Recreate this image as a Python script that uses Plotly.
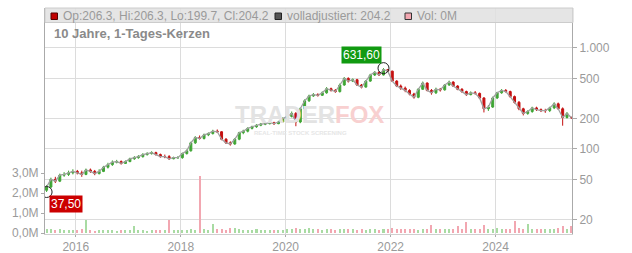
import plotly.graph_objects as go
import pandas as pd
import math

# ---------------- data (monthly candles) ----------------
dates = [d + pd.Timedelta(days=11) for d in pd.date_range("2015-06-01", "2025-06-01", freq="MS")]

opens = [39, 42, 50, 48, 55, 56, 58,
         60, 58, 56, 62, 60, 57, 60, 66, 70, 74, 75, 72,
         75, 80, 82, 84, 88, 90, 92, 88, 84, 84, 80, 82,
         82, 90, 96, 115, 130, 127, 138, 142, 150, 148, 125, 115,
         112, 125, 145, 150, 160, 166, 172, 176, 178, 182, 178, 185,
         200, 210, 225, 185, 250, 300, 335, 345, 340, 360, 395, 380,
         370, 430, 500, 470, 485, 430, 410, 470, 540, 575, 540, 610,
         590, 470, 420, 400, 380, 350, 325, 390, 450, 380, 360, 390,
         385, 430, 460, 420, 390, 370, 345, 360, 355, 320, 250, 260,
         320, 360, 380, 370, 330, 290, 250, 225, 235, 255, 245, 240,
         240, 255, 280, 250, 205, 206.3]
highs = [44, 52, 53, 57, 59, 61, 63,
         62, 61, 64, 64, 62, 63, 68, 73, 77, 78, 77, 77,
         82, 85, 87, 91, 93, 95, 94, 90, 88, 87, 84, 85,
         92, 99, 118, 134, 136, 142, 146, 155, 156, 150, 128, 119,
         128, 148, 155, 164, 170, 176, 181, 183, 188, 186, 190, 206,
         218, 235, 232, 258, 310, 345, 358, 356, 372, 410, 405, 392,
         445, 515, 512, 500, 495, 440, 482, 555, 590, 585, 631.6, 620,
         595, 480, 435, 415, 390, 360, 400, 465, 455, 392, 405, 402,
         440, 475, 468, 428, 400, 378, 372, 375, 362, 325, 272, 330,
         368, 392, 392, 378, 338, 298, 256, 242, 262, 262, 252, 250,
         262, 290, 288, 258, 232, 206.3]
lows = [37.5, 41, 46, 47, 53, 54, 56,
        56, 53, 55, 58, 55, 56, 59, 64, 68, 72, 70, 71,
        74, 78, 80, 82, 86, 88, 86, 82, 81, 78, 79, 80,
        80, 88, 94, 112, 124, 124, 134, 139, 144, 122, 112, 108,
        110, 122, 140, 146, 156, 162, 168, 172, 175, 174, 176, 183,
        196, 205, 168, 180, 245, 292, 328, 330, 335, 352, 370, 360,
        362, 422, 455, 460, 420, 398, 405, 462, 528, 530, 535, 580,
        460, 410, 385, 365, 340, 315, 318, 385, 372, 345, 350, 370,
        378, 422, 412, 382, 360, 335, 340, 345, 312, 230, 238, 255,
        312, 352, 362, 322, 282, 242, 215, 218, 228, 238, 232, 228,
        232, 248, 245, 170, 200, 199.7]
closes = [42, 50, 48, 55, 56, 58, 60,
          58, 56, 62, 60, 57, 60, 66, 70, 74, 75, 72, 75,
          80, 82, 84, 88, 90, 92, 88, 84, 84, 80, 82, 82,
          90, 96, 115, 130, 127, 138, 142, 150, 148, 125, 115, 112,
          125, 145, 150, 160, 166, 172, 176, 178, 182, 178, 185, 200,
          210, 225, 185, 250, 300, 335, 345, 340, 360, 395, 380, 370,
          430, 500, 470, 485, 430, 410, 470, 540, 575, 540, 610, 590,
          470, 420, 400, 380, 350, 325, 390, 450, 380, 360, 390, 385,
          430, 460, 420, 390, 370, 345, 360, 355, 320, 250, 260, 320,
          360, 380, 370, 330, 290, 250, 225, 235, 255, 245, 240, 240,
          255, 280, 250, 205, 225, 204.2]
volumes_m = [0.18, 0.22, 0.15, 0.2, 0.14, 0.16, 0.15,
             0.14, 0.18, 0.65, 0.15, 0.12, 0.14, 0.16, 0.13, 0.15, 0.12, 0.14, 0.13,
             0.14, 0.35, 0.15, 0.13, 0.12, 0.16, 0.13, 0.14, 0.15, 0.65, 0.14, 0.13,
             0.16, 0.15, 0.18, 0.15, 2.85, 0.2, 0.16, 0.45, 0.18, 0.22, 0.17, 0.25,
             0.25, 0.18, 0.15, 0.16, 0.14, 0.2, 0.16, 0.15, 0.17, 0.14, 0.15, 0.16,
             0.18, 0.2, 0.25, 0.22, 0.2, 0.24, 0.18, 0.2, 0.17, 0.22, 0.18, 0.16,
             0.2, 0.22, 0.18, 0.2, 0.16, 0.18, 0.15, 0.2, 0.18, 0.16, 0.2, 0.22,
             0.25, 0.2, 0.18, 0.22, 0.2, 0.18, 0.17, 0.2, 0.22, 0.4, 0.2, 0.18,
             0.2, 0.18, 0.22, 0.35, 0.2, 0.55, 0.2, 0.18, 0.22, 0.4, 0.22, 0.2,
             0.25, 0.2, 0.22, 0.2, 0.6, 0.25, 0.22, 0.45, 0.2, 0.22, 0.18, 0.2,
             0.22, 0.2, 0.25, 0.35, 0.22, 0.35]

price_ticks = [20, 50, 100, 200, 500, 1000]
price_tick_labels = ["20", "50", "100", "200", "500", "1.000"]
vol_ticks = [0, 1e6, 2e6, 3e6]
vol_tick_labels = ["0,0M", "1,0M", "2,0M", "3,0M"]
year_ticks = ["2016-01-01", "2018-01-01", "2020-01-01", "2022-01-01", "2024-01-01"]
year_labels = ["2016", "2018", "2020", "2022", "2024"]

high_label = "631,60"
low_label = "37,50"
legend_ohlc = "Op:206.3, Hi:206.3, Lo:199.7, Cl:204.2"
legend_adj = "volladjustiert: 204.2"
legend_vol = "Vol: 0M"
subtitle = "10 Jahre, 1-Tages-Kerzen"

# ---------------- figure ----------------
GRAY = "#9a9a9a"
L, R, T, B = 45, 60, 8, 19
W, H = 632, 253
PW, PH = W - L - R, H - T - B

def px(x):
    return (x - L) / PW

def py(y):
    return 1 - (y - T) / PH

vols = [v * 1e6 for v in volumes_m]
vol_colors = ["#a9dba3" if c >= o else "#f2a7b1" for o, c in zip(opens, closes)]

fig = go.Figure()
fig.add_trace(go.Bar(x=dates, y=vols, marker=dict(color=vol_colors, line_width=0),
                     width=14 * 86400000, yaxis="y2", hoverinfo="skip"))
fig.add_trace(go.Scatter(x=dates, y=closes, mode="lines",
                         line=dict(color="#a0a0a0", width=1.3), hoverinfo="skip"))
fig.add_trace(go.Candlestick(x=dates, open=opens, high=highs, low=lows, close=closes,
                             increasing=dict(line=dict(color="#3fa535", width=1), fillcolor="#3fa535"),
                             decreasing=dict(line=dict(color="#c41010", width=1), fillcolor="#c41010"),
                             whiskerwidth=0))

i_hi = highs.index(max(highs))
i_lo = lows.index(min(lows))
fig.add_trace(go.Scatter(x=[dates[i_hi], dates[i_lo]], y=[highs[i_hi], lows[i_lo]], mode="markers",
                         marker=dict(symbol="circle-open", size=11, color="#222", line=dict(width=1))))

fig.update_layout(
    width=W, height=H, margin=dict(l=L, r=R, t=T, b=B, autoexpand=False),
    paper_bgcolor="white", plot_bgcolor="white", showlegend=False,
    font=dict(family="Liberation Sans, Arial, sans-serif", size=12, color=GRAY),
    bargap=0,
    xaxis=dict(type="date", range=["2015-06-01", "2025-06-16"], tickvals=year_ticks, ticktext=year_labels,
               showgrid=True, gridcolor="#dcdcdc", gridwidth=1, rangeslider=dict(visible=False),
               ticks="outside", ticklen=2, tickcolor="#aaa", showline=True, linecolor="#cfcfcf",
               tickfont=dict(size=12, color=GRAY), zeroline=False, automargin=False),
    yaxis=dict(type="log", range=[1.158, 3.396], side="right", tickvals=price_ticks, ticktext=price_tick_labels,
               showgrid=True, gridcolor="#dcdcdc", gridwidth=1, showline=True, linecolor="#aaa",
               ticks="outside", ticklen=4, tickcolor="#aaa", tickfont=dict(size=12, color=GRAY),
               zeroline=False, automargin=False),
    yaxis2=dict(overlaying="y", side="left", range=[-0.05e6, 11.25e6], tickvals=vol_ticks, ticktext=vol_tick_labels,
                showgrid=False, showline=True, linecolor="#aaa", ticks="outside", ticklen=3, tickcolor="#aaa",
                tickfont=dict(size=12, color=GRAY), zeroline=False, automargin=False),
)

shapes = [
    dict(type="rect", xref="paper", yref="paper", x0=0, x1=px(573), y0=py(22.5), y1=1,
         fillcolor="rgba(225,225,225,0.85)", line=dict(color="#cccccc", width=1), layer="above"),
    dict(type="rect", xref="paper", yref="paper", x0=px(51), x1=px(57.5), y0=py(19.5), y1=py(13),
         fillcolor="#c00000", line=dict(color="#500", width=1), layer="above"),
    dict(type="rect", xref="paper", yref="paper", x0=px(275), x1=px(281.5), y0=py(19.5), y1=py(13),
         fillcolor="#555", line=dict(color="#222", width=1), layer="above"),
    dict(type="rect", xref="paper", yref="paper", x0=px(405), x1=px(411.5), y0=py(19.5), y1=py(13),
         fillcolor="#f2a7b1", line=dict(color="#333", width=1), layer="above"),
]
fig.update_layout(shapes=shapes)

ann = [
    dict(xref="paper", yref="paper", x=px(61), y=py(16), text=legend_ohlc, showarrow=False,
         xanchor="left", yanchor="middle", font=dict(size=12, color=GRAY)),
    dict(xref="paper", yref="paper", x=px(285), y=py(16), text=legend_adj, showarrow=False,
         xanchor="left", yanchor="middle", font=dict(size=12, color=GRAY)),
    dict(xref="paper", yref="paper", x=px(415), y=py(16), text=legend_vol, showarrow=False,
         xanchor="left", yanchor="middle", font=dict(size=12, color=GRAY)),
    dict(xref="paper", yref="paper", x=px(52), y=py(34), text="<b>" + subtitle + "</b>", showarrow=False,
         xanchor="left", yanchor="middle", font=dict(size=13, color="#8a8a8a")),
    dict(xref="paper", yref="paper", x=px(309), y=py(114),
         text="<b><span style='color:#e3e3e3'>TRADER</span><span style='color:#f8d0d0'>FOX</span></b>",
         showarrow=False, xanchor="center", yanchor="middle", font=dict(size=24)),
    dict(xref="paper", yref="paper", x=px(300), y=py(133), text="<b>REAL-TIME STOCK SCREENING</b>",
         showarrow=False, xanchor="center", yanchor="middle", font=dict(size=6, color="#e6e6e6")),
    dict(x=dates[i_hi], y=math.log10(highs[i_hi]), text=high_label, showarrow=False,
         xanchor="right", yanchor="bottom", xshift=-2, yshift=4, bgcolor="#119a11", borderpad=1,
         font=dict(size=12, color="white")),
    dict(x=dates[i_lo], y=math.log10(lows[i_lo]), text=low_label, showarrow=False,
         xanchor="left", yanchor="top", xshift=2, yshift=-3, bgcolor="#cc0000", borderpad=1,
         font=dict(size=12, color="white")),
]
fig.update_layout(annotations=ann)

fig.write_html("out.html")
